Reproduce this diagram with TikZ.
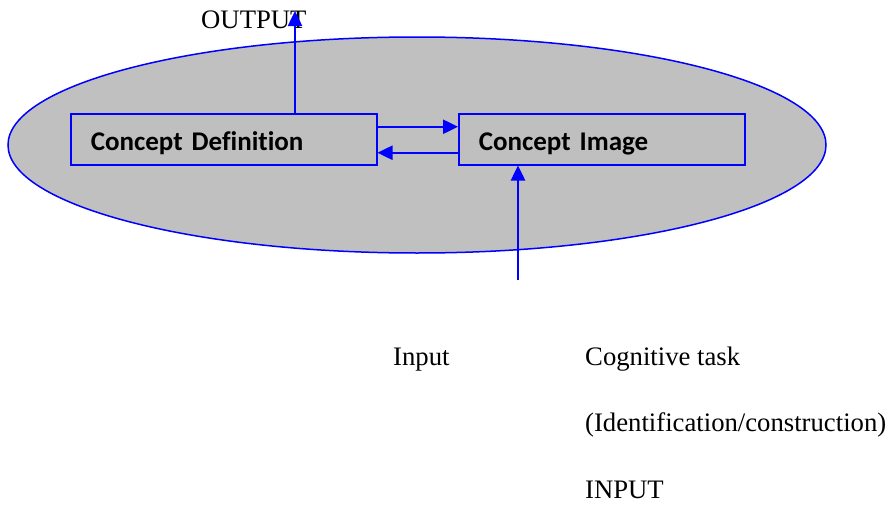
\documentclass[tikz,border=0pt]{standalone}
\usepackage{fontspec}
\setmainfont{Liberation Serif}
\newfontfamily\boxfont[Ligatures=NoCommon]{Carlito}
\usetikzlibrary{shapes.geometric,arrows.meta}

\begin{document}
\begin{tikzpicture}[x=1pt, y=-1pt,
  concept/.style = {draw=blue, line width=1.5pt, fill=gray!50, minimum height=51pt,
                    inner xsep=20pt, inner ysep=0pt, text height=29pt, text depth=6pt,
                    align=left, anchor=north west,
                    font=\boxfont\fontsize{27}{32}\selectfont\bfseries},
  link/.style = {draw=blue, line width=2.5pt, -{Triangle[length=15pt,width=14pt]}},
  label/.style = {inner sep=0pt, anchor=base west, font=\fontsize{26.7}{32}\selectfont},
]

\useasboundingbox (0,0) rectangle (887,506);

\node[ellipse, draw=blue, line width=1.5pt, fill={rgb,255:red,192;green,192;blue,192},
      minimum width=818pt, minimum height=216pt] (ctx) at (417,145) {};

\node[concept, text width=266pt] (defn) at (70,113) {Concept Definition};
\node[concept, text width=246pt] (img) at (458,113) {Concept Image};

\coordinate (outtip) at (295,11);
\coordinate (instart) at (518,280);

\node[label] (output) at (201,28) {OUTPUT};
\node[label] (input) at (393,365) {Input};
\node[label] (task) at (585,365) {Cognitive task};
\node[label] (kind) at (585,431) {(Identification/construction)};
\node[label] (inputcap) at (585,498) {INPUT};

\draw[link] ([yshift=12.5pt]defn.east) -- ([yshift=12.5pt]img.west);
\draw[link] ([yshift=-13.5pt]img.west) -- ([yshift=-13.5pt]defn.east);
\draw[link] (defn.north -| outtip) -- (outtip);
\draw[link] (instart) -- (instart |- img.south);

\end{tikzpicture}
\end{document}
